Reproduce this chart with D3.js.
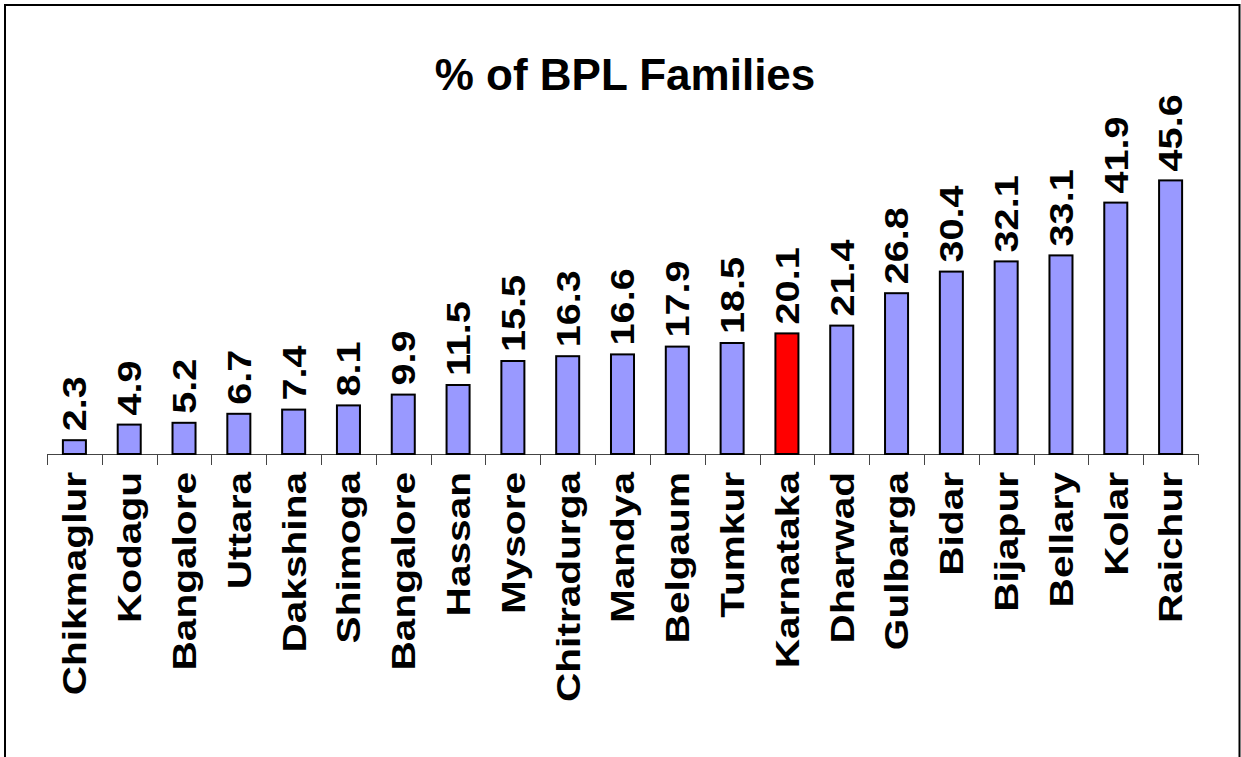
<!DOCTYPE html>
<html>
<head>
<meta charset="utf-8">
<script src="https://d3js.org/d3.v7.min.js"></script>
<style>
	body { margin: 0; background: #fff; }
	svg { display: block; font-family: Arial, "Liberation Sans", sans-serif; }
</style>
</head>
<body>
<div id="chart"></div>
<script>
var districts = ["Chikmaglur", "Kodagu", "Bangalore", "Uttara", "Dakshina", "Shimoga", "Bangalore",
	"Hassan", "Mysore", "Chitradurga", "Mandya", "Belgaum", "Tumkur", "Karnataka", "Dharwad",
	"Gulbarga", "Bidar", "Bijapur", "Bellary", "Kolar", "Raichur"];
var bplPercent = [2.3, 4.9, 5.2, 6.7, 7.4, 8.1, 9.9, 11.5, 15.5, 16.3, 16.6, 17.9, 18.5, 20.1, 21.4,
	26.8, 30.4, 32.1, 33.1, 41.9, 45.6];
var highlight = "Karnataka";
var title = "% of BPL Families";

var width = 1241,
	height = 757,
	x0 = 47, x1 = 1198,
	baseY = 454;

var svg = d3.select("#chart").append("svg")
	.attr("width", width)
	.attr("height", height);

// frame around the picture (bottom edge is cut off)
svg.append("path")
	.attr("d", "M5,757 L5,5 L1239.5,5 L1239.5,757")
	.attr("fill", "none")
	.attr("stroke", "#000")
	.attr("stroke-width", 2);

svg.append("text")
	.attr("x", 625)
	.attr("y", 90)
	.attr("text-anchor", "middle")
	.attr("font-size", 44)
	.attr("font-weight", "bold")
	.text(title);

var x = d3.scaleBand()
	.domain(d3.range(districts.length))
	.range([x0, x1])
	.paddingInner(0.58)
	.paddingOuter(0.29);

var y = d3.scaleLinear()
	.domain([0, 50])
	.range([baseY, baseY - 300]);

// axis line with ticks between categories
var band = (x1 - x0) / districts.length;
svg.append("line")
	.attr("x1", x0).attr("x2", x1)
	.attr("y1", baseY + 0.5).attr("y2", baseY + 0.5)
	.attr("stroke", "#444").attr("stroke-width", 1);

svg.selectAll(".tick")
	.data(d3.range(districts.length + 1))
	.enter().append("line")
	.attr("class", "tick")
	.attr("x1", function(i) { return Math.round(x0 + i * band) + 0.5; })
	.attr("x2", function(i) { return Math.round(x0 + i * band) + 0.5; })
	.attr("y1", baseY)
	.attr("y2", baseY + 11)
	.attr("stroke", "#444").attr("stroke-width", 1);

svg.selectAll(".bar")
	.data(bplPercent)
	.enter().append("rect")
	.attr("class", "bar")
	.attr("x", function(d, i) { return x(i); })
	.attr("y", function(d) { return y(d); })
	.attr("width", x.bandwidth())
	.attr("height", function(d) { return baseY - y(d); })
	.attr("fill", function(d, i) { return districts[i] === highlight ? "#ff0000" : "#9999ff"; })
	.attr("stroke", "#000")
	.attr("stroke-width", 2);

// value labels, rotated and stretched along their length
svg.selectAll(".val")
	.data(bplPercent)
	.enter().append("text")
	.attr("class", "val")
	.attr("transform", function(d, i) {
		return "translate(" + (x(i) + x.bandwidth() / 2) + "," + (y(d) - 9) + ")rotate(-90)scale(1.2,1)";
	})
	.attr("dy", "0.36em")
	.attr("font-size", 33)
	.attr("font-weight", "bold")
	.text(function(d) { return d.toFixed(1); });

svg.selectAll(".cat")
	.data(districts)
	.enter().append("text")
	.attr("class", "cat")
	.attr("transform", function(d, i) {
		return "translate(" + (x(i) + x.bandwidth() / 2) + "," + 472 + ")rotate(-90)scale(1.23,1)";
	})
	.attr("dy", "0.36em")
	.attr("text-anchor", "end")
	.attr("font-size", 33)
	.attr("font-weight", "bold")
	.text(function(d) { return d; });
</script>
</body>
</html>
